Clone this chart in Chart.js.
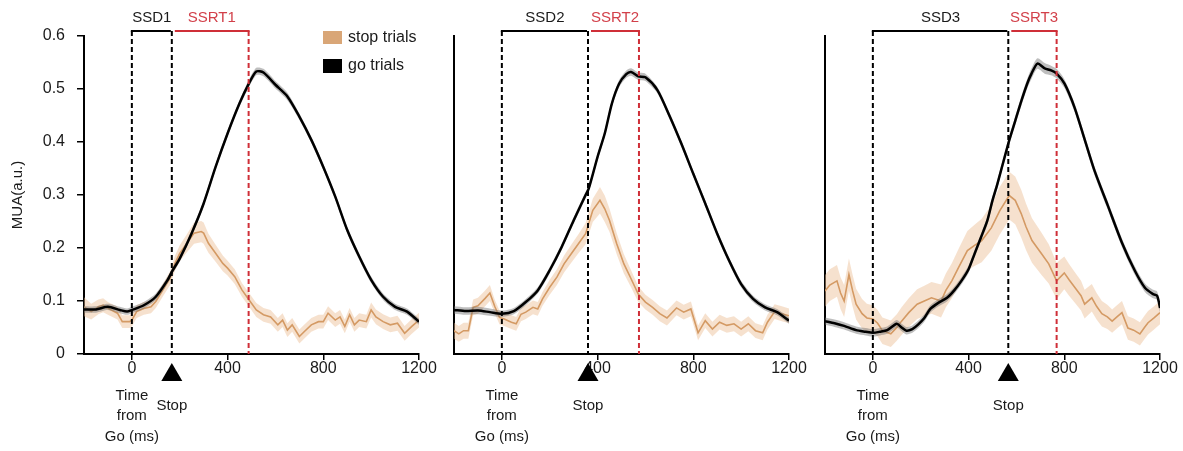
<!DOCTYPE html>
<html><head><meta charset="utf-8">
<script src="https://cdn.jsdelivr.net/npm/chart.js@4.4.1/dist/chart.umd.min.js"></script>
<style>
html,body{margin:0;padding:0;background:#fff;}
#wrap{position:relative;width:1183px;height:451px;overflow:hidden;background:#fff;}
canvas{position:absolute;top:0;}
</style></head><body>
<div id="wrap">
<canvas id="c1" width="440" height="451" style="left:0px;width:440px;height:451px"></canvas>
<canvas id="c2" width="370" height="451" style="left:440px;width:370px;height:451px"></canvas>
<canvas id="c3" width="373" height="451" style="left:810px;width:373px;height:451px"></canvas>
</div>
<script>
// ---------- tick labels ----------
const xTicks = [0, 400, 800, 1200];
const xTickLabels = ['0', '400', '800', '1200'];
const yTicks = [0, 0.1, 0.2, 0.3, 0.4, 0.5, 0.6];
const yTickLabels = ['0', '0.1', '0.2', '0.3', '0.4', '0.5', '0.6'];

// ---------- event times (ms from Go) ----------
const stopTimes = [167, 360, 566];
const ssrtEnds = [488, 573, 768];
const ssdLabels = ['SSD1', 'SSD2', 'SSD3'];
const ssrtLabels = ['SSRT1', 'SSRT2', 'SSRT3'];
const seriesLabels = ['stop trials', 'go trials'];

// ---------- panel 1 ----------
const goT1 = [-200,-150,-100,-50,-20,0,50,100,150,167,200,250,300,350,400,450,490,520,550,600,650,700,750,800,850,900,950,1000,1050,1100,1150,1200];
const goY1 = [0.084,0.084,0.089,0.083,0.080,0.083,0.092,0.108,0.140,0.155,0.180,0.228,0.284,0.353,0.416,0.473,0.511,0.533,0.531,0.508,0.486,0.448,0.404,0.353,0.297,0.234,0.184,0.140,0.108,0.089,0.080,0.061];
const goE1 = [0.006,0.006,0.006,0.006,0.006,0.006,0.006,0.006,0.006,0.006,0.006,0.006,0.006,0.006,0.006,0.006,0.007,0.007,0.007,0.007,0.007,0.006,0.006,0.006,0.006,0.006,0.006,0.006,0.006,0.006,0.006,0.006];
const stopT1 = [-200,-170,-140,-120,-100,-60,-40,-10,0,20,50,80,100,130,160,180,200,230,260,290,300,320,350,380,400,430,460,490,520,550,580,610,630,650,670,700,720,750,780,800,820,850,870,890,910,930,950,980,1000,1020,1050,1080,1110,1140,1170,1200];
const stopY1 = [0.089,0.080,0.089,0.092,0.086,0.077,0.061,0.061,0.064,0.080,0.086,0.089,0.099,0.121,0.143,0.171,0.190,0.209,0.228,0.231,0.228,0.209,0.190,0.171,0.162,0.146,0.121,0.102,0.083,0.074,0.070,0.055,0.064,0.045,0.055,0.033,0.042,0.055,0.061,0.061,0.077,0.064,0.070,0.052,0.074,0.055,0.064,0.061,0.083,0.070,0.061,0.055,0.058,0.039,0.052,0.064];
const stopE1 = [0.018,0.015,0.014,0.013,0.012,0.012,0.012,0.012,0.012,0.012,0.012,0.012,0.012,0.012,0.013,0.014,0.015,0.017,0.020,0.020,0.020,0.018,0.016,0.015,0.014,0.014,0.013,0.013,0.013,0.013,0.013,0.013,0.013,0.013,0.013,0.013,0.013,0.013,0.013,0.013,0.013,0.013,0.013,0.013,0.013,0.013,0.013,0.013,0.014,0.014,0.014,0.014,0.014,0.014,0.014,0.014];

// ---------- panel 2 ----------
const goT2 = [-200,-150,-100,-50,0,50,100,150,200,250,300,350,363,400,430,460,490,520,540,570,600,650,700,750,800,850,900,950,1000,1050,1100,1150,1200];
const goY2 = [0.083,0.081,0.082,0.079,0.076,0.081,0.098,0.120,0.158,0.202,0.252,0.300,0.312,0.372,0.416,0.473,0.510,0.528,0.532,0.524,0.522,0.498,0.450,0.397,0.340,0.284,0.227,0.176,0.132,0.104,0.088,0.079,0.063];
const goE2 = [0.007,0.007,0.007,0.007,0.006,0.006,0.006,0.006,0.006,0.006,0.006,0.006,0.006,0.006,0.006,0.006,0.007,0.007,0.007,0.007,0.007,0.006,0.006,0.006,0.006,0.006,0.006,0.006,0.006,0.006,0.006,0.006,0.006];
const stopT2 = [-200,-180,-160,-140,-120,-100,-70,-50,-30,-10,10,40,60,80,100,130,150,170,200,230,260,290,320,350,380,410,430,450,480,510,540,570,600,630,660,690,730,760,790,820,850,880,910,940,970,1000,1030,1060,1090,1110,1140,1170,1200];
const stopY2 = [0.044,0.038,0.044,0.044,0.088,0.091,0.105,0.115,0.090,0.069,0.066,0.060,0.057,0.075,0.079,0.088,0.085,0.104,0.126,0.145,0.170,0.189,0.208,0.227,0.271,0.290,0.274,0.252,0.208,0.170,0.142,0.113,0.098,0.088,0.076,0.068,0.087,0.079,0.085,0.040,0.063,0.047,0.060,0.054,0.057,0.047,0.057,0.044,0.040,0.060,0.080,0.076,0.072];
const stopE2 = [0.015,0.015,0.015,0.015,0.015,0.015,0.015,0.015,0.013,0.013,0.013,0.013,0.013,0.013,0.013,0.013,0.013,0.013,0.014,0.015,0.016,0.017,0.018,0.020,0.022,0.025,0.025,0.022,0.020,0.018,0.016,0.015,0.014,0.014,0.014,0.014,0.014,0.014,0.014,0.014,0.014,0.014,0.014,0.014,0.014,0.014,0.014,0.014,0.014,0.014,0.014,0.014,0.014];

// ---------- panel 3 ----------
const goT3 = [-200,-160,-120,-70,-30,0,30,60,100,120,140,165,190,215,240,275,310,340,370,400,425,450,478,500,520,566,595,621,645,663,688,718,745,768,801,843,885,927,982,1041,1095,1137,1171,1188,1200];
const goY3 = [0.062,0.058,0.053,0.045,0.042,0.040,0.042,0.045,0.057,0.050,0.044,0.047,0.056,0.068,0.085,0.097,0.106,0.120,0.138,0.160,0.189,0.218,0.251,0.290,0.320,0.397,0.440,0.478,0.510,0.529,0.548,0.539,0.535,0.529,0.510,0.465,0.405,0.345,0.280,0.210,0.157,0.125,0.113,0.110,0.087];
const goE3 = [0.007,0.007,0.007,0.007,0.007,0.007,0.007,0.007,0.007,0.007,0.007,0.007,0.007,0.007,0.007,0.007,0.007,0.007,0.007,0.007,0.007,0.007,0.008,0.008,0.008,0.008,0.008,0.009,0.009,0.010,0.010,0.010,0.009,0.009,0.008,0.008,0.008,0.008,0.008,0.008,0.008,0.008,0.008,0.008,0.008];
const stopT3 = [-200,-180,-150,-135,-120,-100,-85,-70,-45,-25,0,20,40,75,100,120,150,185,215,245,285,305,330,360,395,425,455,495,530,570,595,620,640,665,705,735,768,800,820,845,870,885,915,935,957,980,1000,1020,1041,1066,1090,1116,1135,1150,1175,1200];
const stopY3 = [0.119,0.130,0.138,0.115,0.100,0.150,0.120,0.094,0.076,0.068,0.066,0.058,0.044,0.038,0.050,0.062,0.078,0.094,0.100,0.106,0.100,0.120,0.138,0.165,0.195,0.205,0.214,0.238,0.270,0.299,0.290,0.265,0.240,0.214,0.189,0.170,0.138,0.153,0.140,0.125,0.110,0.094,0.106,0.090,0.076,0.070,0.062,0.070,0.078,0.049,0.045,0.038,0.050,0.059,0.068,0.078];
const stopE3 = [0.030,0.030,0.030,0.030,0.030,0.030,0.030,0.029,0.028,0.027,0.026,0.025,0.025,0.025,0.025,0.026,0.027,0.028,0.029,0.030,0.031,0.032,0.033,0.035,0.037,0.039,0.041,0.043,0.045,0.045,0.045,0.045,0.044,0.042,0.040,0.037,0.034,0.031,0.030,0.029,0.028,0.027,0.026,0.025,0.024,0.023,0.022,0.022,0.022,0.022,0.022,0.022,0.022,0.022,0.022,0.022];

// ---------- style ----------
const FONT = '"Liberation Sans", Arial, Helvetica, sans-serif';
const RED = '#cf2f38';
const RED_TEXT = '#d2404a';
const STOP_LINE = '#d49a64';
const STOP_BAND = 'rgba(234,188,146,0.45)';
const STOP_SWATCH = '#d9a677';
const GO_BAND = 'rgba(110,110,110,0.45)';
const TXT = '#1a1a1a';
const NONE = 'rgba(0,0,0,0)';

function pts(t, v, e, sign) {
  return t.map((x, i) => ({x: x, y: v[i] + (e ? sign * e[i] : 0)}));
}

const annot = {
  id: 'annot',
  afterDraw(chart, args, o) {
    const ctx = chart.ctx, ca = chart.chartArea, x = chart.scales.x;
    const x0 = x.getPixelForValue(0), xs = x.getPixelForValue(o.stop), xr = x.getPixelForValue(o.ssrt);
    const barY = ca.top - 5;
    ctx.save();
    // dashed vertical lines
    ctx.lineWidth = 2;
    ctx.setLineDash([5, 3]);
    const vline = (px, col) => { ctx.strokeStyle = col; ctx.beginPath(); ctx.moveTo(px, barY); ctx.lineTo(px, ca.bottom); ctx.stroke(); };
    vline(x0, '#000'); vline(xs, '#000'); vline(xr, RED);
    ctx.setLineDash([]);
    // top bars
    ctx.lineWidth = 2;
    ctx.strokeStyle = '#000'; ctx.beginPath(); ctx.moveTo(x0 - 1, barY); ctx.lineTo(xs - 1, barY); ctx.stroke();
    ctx.strokeStyle = RED; ctx.beginPath(); ctx.moveTo(xs + 3, barY); ctx.lineTo(xr + 1, barY); ctx.stroke();
    // top labels
    ctx.font = '15px ' + FONT;
    ctx.textAlign = 'center'; ctx.textBaseline = 'middle';
    ctx.fillStyle = TXT; ctx.fillText(o.ssd, (x0 + xs) / 2, barY - 13);
    ctx.fillStyle = RED_TEXT; ctx.fillText(o.ssrtLabel, (xs + 3 + xr) / 2, barY - 13);
    // stop triangle + label
    ctx.fillStyle = '#000';
    ctx.beginPath();
    ctx.moveTo(xs, ca.bottom + 9); ctx.lineTo(xs + 10.5, ca.bottom + 27); ctx.lineTo(xs - 10.5, ca.bottom + 27); ctx.closePath(); ctx.fill();
    ctx.fillStyle = TXT;
    ctx.fillText('Stop', xs, ca.bottom + 52);
    ctx.fillText('Time', x0, ca.bottom + 42);
    ctx.fillText('from', x0, ca.bottom + 62);
    ctx.fillText('Go (ms)', x0, ca.bottom + 83);
    if (o.first) {
      // y title
      ctx.save();
      ctx.translate(18, (ca.top + ca.bottom) / 2);
      ctx.rotate(-Math.PI / 2);
      ctx.fillText('MUA(a.u.)', 0, 0);
      ctx.restore();
      // legend
      ctx.fillStyle = STOP_SWATCH; ctx.fillRect(323, 31, 19, 13);
      ctx.fillStyle = '#000'; ctx.fillRect(323, 59, 19, 14);
      ctx.font = '16px ' + FONT;
      ctx.textAlign = 'left';
      ctx.fillStyle = TXT;
      ctx.fillText(seriesLabels[0], 348, 38);
      ctx.fillText(seriesLabels[1], 348, 66);
    }
    ctx.restore();
  }
};

const panels = [
  {id: 'c1', goT: goT1, goY: goY1, goE: goE1, stT: stopT1, stY: stopY1, stE: stopE1, yW: 84, padR: 21, first: true},
  {id: 'c2', goT: goT2, goY: goY2, goE: goE2, stT: stopT2, stY: stopY2, stE: stopE2, yW: 14, padR: 21, first: false},
  {id: 'c3', goT: goT3, goY: goY3, goE: goE3, stT: stopT3, stY: stopY3, stE: stopE3, yW: 15, padR: 23, first: false}
];

panels.forEach((p, k) => {
  new Chart(document.getElementById(p.id), {
    type: 'line',
    data: {
      datasets: [
        {data: pts(p.goT, p.goY, null, 0), borderColor: '#000', borderWidth: 2.5, pointRadius: 0, fill: false, tension: 0.25},
        {data: pts(p.goT, p.goY, p.goE, 1), borderColor: NONE, borderWidth: 0, pointRadius: 0, fill: '+1', backgroundColor: GO_BAND, tension: 0.25},
        {data: pts(p.goT, p.goY, p.goE, -1), borderColor: NONE, borderWidth: 0, pointRadius: 0, fill: false, tension: 0.25},
        {data: pts(p.stT, p.stY, null, 0), borderColor: STOP_LINE, borderWidth: 1.6, pointRadius: 0, fill: false},
        {data: pts(p.stT, p.stY, p.stE, 1), borderColor: NONE, borderWidth: 0, pointRadius: 0, fill: '+1', backgroundColor: STOP_BAND},
        {data: pts(p.stT, p.stY, p.stE, -1), borderColor: NONE, borderWidth: 0, pointRadius: 0, fill: false}
      ]
    },
    options: {
      responsive: false,
      animation: false,
      events: [],
      layout: {padding: {left: 0, right: p.padR, top: 36, bottom: 0}},
      plugins: {
        legend: {display: false},
        tooltip: {enabled: false},
        annot: {stop: stopTimes[k], ssrt: ssrtEnds[k], ssd: ssdLabels[k], ssrtLabel: ssrtLabels[k], first: p.first}
      },
      scales: {
        x: {
          type: 'linear', min: -200, max: 1200,
          afterBuildTicks: s => { s.ticks = xTicks.map(v => ({value: v})); },
          afterFit: s => { s.height = 97; },
          grid: {display: true, drawOnChartArea: false, drawTicks: true, tickLength: 6, color: '#000', lineWidth: 1.5},
          border: {display: true, color: '#000', width: 2},
          ticks: {font: {family: FONT, size: 16}, color: TXT, padding: -1, maxRotation: 0, autoSkip: false,
                  callback: (v) => xTickLabels[xTicks.indexOf(v)]}
        },
        y: {
          type: 'linear', min: 0, max: 0.6,
          afterBuildTicks: s => { s.ticks = yTicks.map(v => ({value: v})); },
          afterFit: s => { s.width = p.yW; },
          grid: {display: true, drawOnChartArea: false, drawTicks: p.first, tickLength: p.first ? 7 : 0, color: '#000', lineWidth: 1.5},
          border: {display: true, color: '#000', width: 2},
          ticks: {display: p.first, font: {family: FONT, size: 16}, color: TXT, padding: 12,
                  callback: (v) => yTickLabels[yTicks.indexOf(v)]}
        }
      }
    },
    plugins: [annot]
  });
});
</script>
</body></html>
